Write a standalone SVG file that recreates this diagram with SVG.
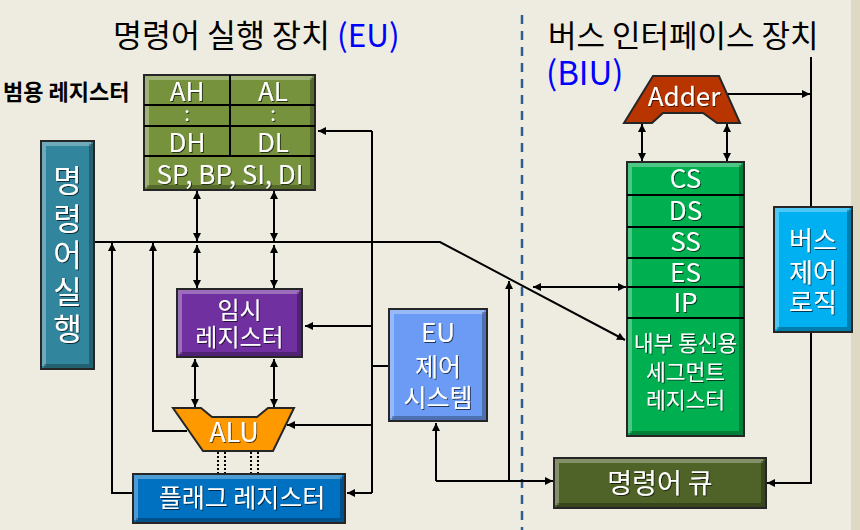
<svg xmlns="http://www.w3.org/2000/svg" width="860" height="530" viewBox="0 0 860 530">
<defs>
<marker id="ah" viewBox="0 0 10 10" refX="10" refY="5" markerWidth="9" markerHeight="8" markerUnits="userSpaceOnUse" orient="auto-start-reverse">
<path d="M0,0 L10,5 L0,10 Z" fill="#000"/>
</marker>
<filter id="ts" x="-10%" y="-10%" width="130%" height="140%">
<feDropShadow dx="1" dy="1" stdDeviation="0.6" flood-color="#000" flood-opacity="0.65"/>
</filter>
</defs>
<style>
text{font-family:"Noto Sans CJK KR","Noto Sans",sans-serif;}
.t{fill:#fff;text-anchor:middle;filter:url(#ts);}
.box{stroke:#262626;stroke-width:2;}
.hl{fill:none;stroke:#fff;stroke-opacity:0.3;stroke-width:4;}
.sh{fill:none;stroke:#000;stroke-opacity:0.28;stroke-width:4;}
.div{stroke:#000;stroke-width:2;fill:none;}
.c{stroke:#000;stroke-width:2;fill:none;}
.ca{stroke:#000;stroke-width:2;fill:none;marker-end:url(#ah);}
.cb{stroke:#000;stroke-width:2;fill:none;marker-start:url(#ah);marker-end:url(#ah);}
.dot{stroke:#000;stroke-width:2;stroke-dasharray:2 2;fill:none;}
</style>
<rect x="0" y="0" width="860" height="530" fill="#EEECE1"/>
<rect x="851" y="0" width="9" height="530" fill="#DDD9C4"/>

<g id="titles">
<text x="113" y="47" font-size="31.5" fill="#000">명령어 실행 장치 <tspan fill="#0000FF">(EU)</tspan></text>
<text x="548" y="47" font-size="31" fill="#000">버스 인터페이스 장치</text>
<text x="546" y="85" font-size="33" fill="#0000FF">(BIU)</text>
<text x="3" y="100" font-size="22" font-weight="bold" fill="#000">범용 레지스터</text>
</g>

<line x1="522" y1="15" x2="522" y2="530" stroke="#2F5D8C" stroke-width="2.5" stroke-dasharray="9 7"/>

<g id="connectors">
<polyline class="ca" points="94,242 440,242 625,340"/>
<line class="cb" x1="197" y1="191" x2="197" y2="241"/>
<line class="cb" x1="274" y1="191" x2="274" y2="241"/>
<line class="cb" x1="197" y1="245" x2="197" y2="288"/>
<line class="cb" x1="274" y1="245" x2="274" y2="288"/>
<line class="cb" x1="195" y1="359" x2="195" y2="407"/>
<line class="cb" x1="274" y1="359" x2="274" y2="407"/>
<polyline class="ca" points="133,493 112,493 112,243"/>
<polyline class="ca" points="187,431 153,431 153,243"/>
<line class="c" x1="372" y1="131" x2="372" y2="493"/>
<line class="ca" x1="372" y1="131" x2="318" y2="131"/>
<line class="ca" x1="372" y1="326" x2="305" y2="326"/>
<line class="c" x1="372" y1="366" x2="389" y2="366"/>
<line class="ca" x1="372" y1="425" x2="287" y2="425"/>
<line class="ca" x1="372" y1="493" x2="347" y2="493"/>
<line class="ca" x1="436" y1="481" x2="436" y2="423"/>
<line class="ca" x1="436" y1="481" x2="553" y2="481"/>
<line class="ca" x1="509" y1="481" x2="509" y2="281"/>
<line class="cb" x1="533" y1="287" x2="626" y2="287"/>
<line class="cb" x1="642" y1="124" x2="642" y2="161"/>
<line class="cb" x1="727" y1="124" x2="727" y2="161"/>
<line class="ca" x1="728" y1="94" x2="810" y2="94"/>
<line class="c" x1="811" y1="57" x2="811" y2="207"/>
<polyline class="ca" points="811,332 811,483 767,483"/>
<line class="dot" x1="218" y1="452" x2="218" y2="474"/>
<line class="dot" x1="225" y1="452" x2="225" y2="474"/>
<line class="dot" x1="251" y1="452" x2="251" y2="474"/>
<line class="dot" x1="258" y1="452" x2="258" y2="474"/>
</g>

<g id="gp-registers">
<rect class="box" x="144" y="75" width="171" height="115" fill="#76923C"/>
<polyline class="hl" points="147,187 147,78 312,78"/>
<polyline class="sh" points="147,187 312,187 312,78"/>
<line class="div" x1="144" y1="105" x2="315" y2="105"/>
<line class="div" x1="144" y1="126" x2="315" y2="126"/>
<line class="div" x1="144" y1="156" x2="315" y2="156"/>
<line class="div" x1="230" y1="75" x2="230" y2="156"/>
<text class="t" x="187" y="101" font-size="26">AH</text>
<text class="t" x="273" y="101" font-size="26">AL</text>
<text class="t" x="187" y="121" font-size="20">:</text>
<text class="t" x="273" y="121" font-size="20">:</text>
<text class="t" x="187" y="152" font-size="26">DH</text>
<text class="t" x="273" y="152" font-size="26">DL</text>
<text class="t" x="230" y="184" font-size="26">SP, BP, SI, DI</text>
</g>

<g id="instr-exec">
<rect class="box" x="41" y="141" width="53" height="228" fill="#31859C"/>
<polyline class="hl" points="44,366 44,144 91,144"/>
<polyline class="sh" points="44,366 91,366 91,144"/>
<text class="t" x="67.5" y="192" font-size="31">명</text>
<text class="t" x="67.5" y="230" font-size="31">령</text>
<text class="t" x="67.5" y="266" font-size="31">어</text>
<text class="t" x="67.5" y="303" font-size="31">실</text>
<text class="t" x="67.5" y="340" font-size="31">행</text>
</g>

<g id="temp-reg">
<rect class="box" x="177" y="289" width="125" height="68" fill="#7030A0"/>
<polyline class="hl" points="180,354 180,292 299,292"/>
<polyline class="sh" points="180,354 299,354 299,292"/>
<text class="t" x="239.5" y="319" font-size="24">임시</text>
<text class="t" x="239.5" y="346" font-size="24">레지스터</text>
</g>

<g id="alu">
<polygon points="173,408 201,408 212,417 257,417 268,408 294,408 273,451 203,451" fill="#FF9900" stroke="#262626" stroke-width="2"/>
<text class="t" x="234" y="442" font-size="27">ALU</text>
</g>

<g id="flag-reg">
<rect class="box" x="133" y="474" width="212" height="49" fill="#0070C0"/>
<polyline class="hl" points="136,520 136,477 342,477"/>
<polyline class="sh" points="136,520 342,520 342,477"/>
<text class="t" x="242" y="507" font-size="25">플래그 레지스터</text>
</g>

<g id="eu-control">
<rect class="box" x="389" y="309" width="98" height="112" fill="#6B9BF5"/>
<polyline class="hl" points="392,418 392,312 484,312"/>
<polyline class="sh" points="392,418 484,418 484,312"/>
<text class="t" x="438" y="342" font-size="26">EU</text>
<text class="t" x="438" y="376" font-size="25">제어</text>
<text class="t" x="438" y="407" font-size="25">시스템</text>
</g>

<g id="adder">
<polygon points="653,76 719,76 740,123 717,123 703,113 663,113 652,123 624,123" fill="#B93500" stroke="#262626" stroke-width="2"/>
<text class="t" x="684" y="106" font-size="26">Adder</text>
</g>

<g id="seg-registers">
<rect class="box" x="627" y="162" width="117" height="274" fill="#00B050"/>
<polyline class="hl" points="630,433 630,165 741,165"/>
<polyline class="sh" points="630,433 741,433 741,165"/>
<line class="div" x1="627" y1="195" x2="744" y2="195"/>
<line class="div" x1="627" y1="227" x2="744" y2="227"/>
<line class="div" x1="627" y1="258" x2="744" y2="258"/>
<line class="div" x1="627" y1="287" x2="744" y2="287"/>
<line class="div" x1="627" y1="318" x2="744" y2="318"/>
<text class="t" x="685.5" y="188" font-size="26">CS</text>
<text class="t" x="685.5" y="220" font-size="26">DS</text>
<text class="t" x="685.5" y="251" font-size="26">SS</text>
<text class="t" x="685.5" y="282" font-size="26">ES</text>
<text class="t" x="685.5" y="312" font-size="26">IP</text>
<text class="t" x="685.5" y="351" font-size="21.5">내부 통신용</text>
<text class="t" x="685.5" y="380" font-size="21.5">세그먼트</text>
<text class="t" x="685.5" y="408" font-size="21.5">레지스터</text>
</g>

<g id="bus-control">
<rect class="box" x="774" y="207" width="78" height="125" fill="#00B0F0"/>
<polyline class="hl" points="777,329 777,210 849,210"/>
<polyline class="sh" points="777,329 849,329 849,210"/>
<text class="t" x="813" y="250" font-size="26">버스</text>
<text class="t" x="813" y="282" font-size="26">제어</text>
<text class="t" x="813" y="312" font-size="26">로직</text>
</g>

<g id="instr-queue">
<rect class="box" x="554" y="458" width="212" height="50" fill="#4F6228"/>
<polyline class="hl" points="557,505 557,461 763,461"/>
<polyline class="sh" points="557,505 763,505 763,461"/>
<text class="t" x="660" y="493" font-size="27">명령어 큐</text>
</g>
</svg>
